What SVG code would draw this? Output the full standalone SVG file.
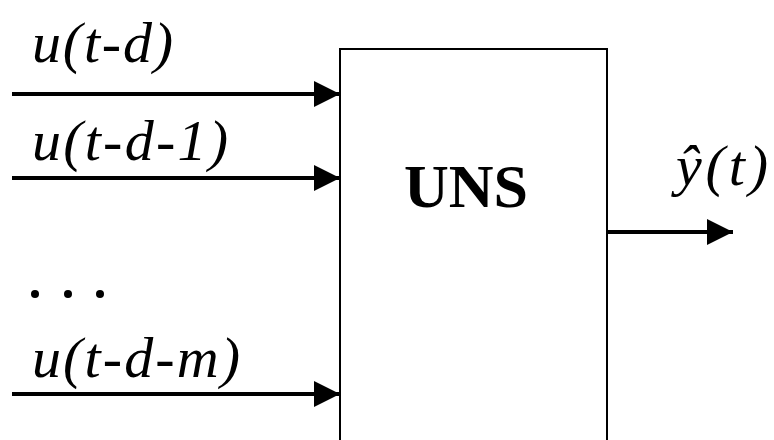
<svg xmlns="http://www.w3.org/2000/svg" width="774" height="440" viewBox="0 0 774 440">
<style>
.lbl{font-family:"Liberation Serif","Times New Roman",serif;font-style:italic;font-size:58px;fill:#000}
.ttl{font-family:"Liberation Serif","Times New Roman",serif;font-weight:bold;font-size:62px;fill:#000}
.ln{stroke:#000;stroke-width:4;fill:none}
</style>
<defs>
<marker id="ah" markerUnits="userSpaceOnUse" markerWidth="26" markerHeight="26" refX="26" refY="13" orient="auto" viewBox="0 0 26 26">
<path d="M0,0 L26,13 L0,26 Z" fill="#000"/>
</marker>
</defs>
<rect width="774" height="440" fill="#fff"/>
<g id="uns">
<rect x="340" y="49" width="267" height="400" fill="#fff" stroke="#000" stroke-width="2"/>
<text class="ttl" x="466" y="207" text-anchor="middle">UNS</text>
</g>
<g id="labels">
<text class="lbl" x="32" y="62" textLength="141" lengthAdjust="spacing">u(t-d)</text>
<text class="lbl" x="32" y="160" textLength="196" lengthAdjust="spacing">u(t-d-1)</text>
<text class="lbl" x="32" y="377" textLength="208" lengthAdjust="spacing">u(t-d-m)</text>
<text class="lbl" x="676" y="185" textLength="92" lengthAdjust="spacing">ŷ(t)</text>
<circle cx="35" cy="294" r="4"/>
<circle cx="68" cy="294" r="4"/>
<circle cx="100" cy="294" r="4"/>
</g>
<g id="connectors">
<line class="ln" x1="12" y1="94" x2="340" y2="94" marker-end="url(#ah)"/>
<line class="ln" x1="12" y1="178" x2="340" y2="178" marker-end="url(#ah)"/>
<line class="ln" x1="12" y1="394" x2="340" y2="394" marker-end="url(#ah)"/>
<line class="ln" x1="608" y1="232" x2="733" y2="232" marker-end="url(#ah)"/>
</g>
</svg>
